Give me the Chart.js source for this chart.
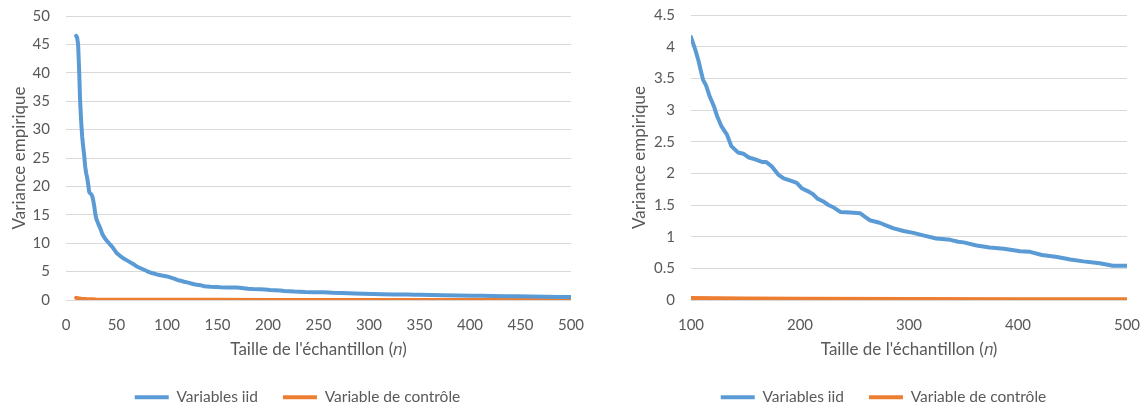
<!DOCTYPE html>
<html lang="fr">
<head>
<meta charset="UTF-8">
<title>Variance empirique</title>
<script src="https://cdn.jsdelivr.net/npm/chart.js@4"></script>
<style>
  * { margin: 0; padding: 0; box-sizing: border-box; }
  body { background: #fff; width: 1147px; height: 410px; overflow: hidden; position: relative; }
  .box { position: absolute; top: 0; height: 410px; }
  #leftBox { left: 0; width: 595px; }
  #rightBox { left: 620px; width: 527px; }
</style>
</head>
<body>
<div class="box" id="leftBox"><canvas id="chartLeft" width="595" height="410"></canvas></div>
<div class="box" id="rightBox"><canvas id="chartRight" width="527" height="410"></canvas></div>
<script>
// Taille de l'échantillon n < 100 (only visible on the left chart)
const nHead = [10, 11, 12, 13, 14, 15, 16, 17, 18, 19, 20, 21, 22, 23, 24, 25, 26, 27, 28, 29,
  30, 32, 34, 36, 38, 40, 43, 46, 50, 54, 58, 62, 66, 70, 75, 80, 85, 90, 95];
const iidHead = [46.5, 46.2, 45, 40.5, 35, 31.5, 28.8, 27, 25.5, 23.5, 22.3, 21.5, 20.3, 19, 18.8, 18.6, 18.3, 17.5, 16.5, 15.2,
  14.3, 13.4, 12.6, 11.6, 11, 10.5, 9.9, 9.3, 8.3, 7.7, 7.2, 6.8, 6.4, 5.9, 5.5, 5.1, 4.75, 4.5, 4.3];

// n >= 100 (both charts)
const nTail = [100, 104, 107, 109, 111, 114, 117, 121, 124, 128, 133, 137, 143, 148, 153, 159, 165, 169, 174, 180,
  185, 192, 197, 202, 207, 212, 216, 221, 226, 231, 237, 246, 255, 260, 264, 273, 280, 286, 295, 304,
  313, 325, 338, 345, 350, 362, 374, 387, 402, 411, 422, 436, 448, 460, 475, 487, 498, 500];
const iidTail = [4.15, 3.95, 3.77, 3.62, 3.48, 3.38, 3.22, 3.06, 2.90, 2.74, 2.61, 2.43, 2.33, 2.31, 2.25, 2.22, 2.18, 2.18, 2.11, 1.98,
  1.92, 1.88, 1.85, 1.76, 1.72, 1.67, 1.60, 1.56, 1.50, 1.46, 1.39, 1.38, 1.37, 1.31, 1.26, 1.22, 1.17, 1.13, 1.09, 1.06,
  1.02, 0.97, 0.95, 0.92, 0.91, 0.86, 0.83, 0.81, 0.77, 0.76, 0.71, 0.68, 0.64, 0.61, 0.58, 0.54, 0.54, 0.54];

// Variable de contrôle
const nCtrl = [10, 12, 15, 20, 30, 50, 75, 100, 150, 200, 300, 400, 500];
const ctrlVar = [0.38, 0.3, 0.22, 0.16, 0.1, 0.06, 0.04, 0.03, 0.025, 0.02, 0.015, 0.012, 0.01];

const blue = '#5B9BD5', orange = '#ED7D31', grey = '#595959', gridGrey = '#D9D9D9';
const FONT = "Lato, 'Liberation Sans', sans-serif";

const pts = (xs, ys) => xs.map((x, i) => ({ x, y: ys[i] }));

// nudge the legend row a few px lower, like Excel's
const legendShift = {
  id: 'legendShift',
  afterLayout(chart) { chart.legend.top += 5; chart.legend.bottom += 5; }
};

function makeChart(id, cfg) {
  const series = (label, data, color) => ({
    label, data, borderColor: color, backgroundColor: color, borderWidth: 4,
    pointRadius: 0, tension: 0, borderJoinStyle: 'round', borderCapStyle: 'round'
  });
  return new Chart(document.getElementById(id), {
    type: 'line',
    plugins: [legendShift],
    data: {
      datasets: [
        series('Variables iid', cfg.iid, blue),
        series('Variable de contrôle', cfg.ctrl, orange)
      ]
    },
    options: {
      responsive: false,
      animation: false,
      layout: { padding: 0 },
      plugins: {
        tooltip: { enabled: false },
        legend: {
          position: 'bottom',
          labels: {
            color: grey, font: { family: FONT, size: 15.5 }, boxWidth: 34, boxHeight: 4, padding: 25,
            generateLabels: (chart) => Chart.defaults.plugins.legend.labels.generateLabels(chart)
              .map(l => ({ ...l, fillStyle: l.strokeStyle, lineWidth: 0 }))
          }
        }
      },
      scales: {
        x: {
          type: 'linear', min: cfg.xMin, max: 500,
          grid: { display: false }, border: { display: false },
          ticks: { stepSize: cfg.xStep, autoSkip: false, maxRotation: 0, color: grey, padding: 8, font: { family: FONT, size: 15 } },
          title: { display: true, text: "Taille de l'échantillon (𝑛)", color: grey, font: { family: FONT, size: 17 }, padding: { top: 0, bottom: 0 } },
          afterFit: (s) => { s.height = 59.5; s.paddingLeft = 0; s.paddingRight = cfg.right; }
        },
        y: {
          min: 0, max: cfg.yMax,
          grid: { color: gridGrey, lineWidth: 1, drawTicks: false }, border: { display: false },
          ticks: { stepSize: cfg.yStep, color: grey, padding: 16, font: { family: FONT, size: 15 },
            callback: (v) => String(+v.toFixed(1)) },
          title: { display: true, text: 'Variance empirique', color: grey, font: { family: FONT, size: 17 }, padding: { top: 9, bottom: 0 } },
          afterFit: (s) => { s.width = cfg.yWidth; s.paddingTop = cfg.top; s.paddingBottom = 0; }
        }
      }
    }
  });
}

// Left: whole range
makeChart('chartLeft', {
  iid: pts(nHead.concat(nTail), iidHead.concat(iidTail)),
  ctrl: pts(nCtrl, ctrlVar),
  xMin: 0, xStep: 50, yMax: 50, yStep: 5,
  top: 16, right: 24, yWidth: 66
});

// Right: zoom on n >= 100
const ctrlIdx = nCtrl.map((n, i) => i).filter(i => nCtrl[i] >= 100);
makeChart('chartRight', {
  iid: pts(nTail, iidTail),
  ctrl: pts(ctrlIdx.map(i => nCtrl[i]), ctrlIdx.map(i => ctrlVar[i])),
  xMin: 100, xStep: 100, yMax: 4.5, yStep: 0.5,
  top: 15, right: 20, yWidth: 71
});
</script>
</body>
</html>
